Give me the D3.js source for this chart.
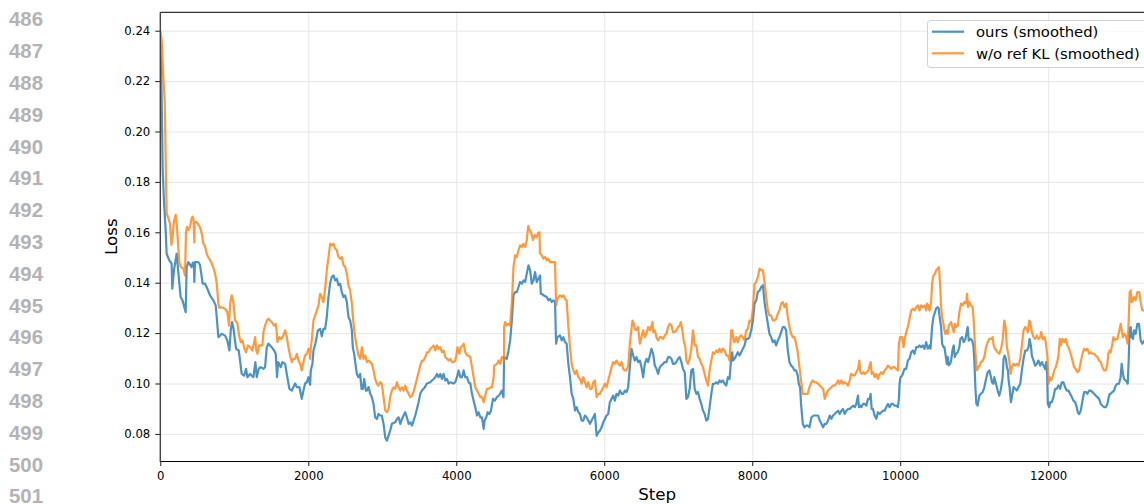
<!DOCTYPE html>
<html>
<head>
<meta charset="utf-8">
<script src="https://cdn.jsdelivr.net/npm/d3@7"></script>
<style>
  body { margin: 0; background: #fff; }
  svg { display: block; font-family: "DejaVu Sans", sans-serif; }
</style>
</head>
<body>
<div id="chart"></div>
<script>
// margin line numbers of the paper page
var lineNumbers = [486,487,488,489,490,491,492,493,494,495,496,497,498,499,500,501];

var xTicks = [0, 2000, 4000, 6000, 8000, 10000, 12000];
var yTicks = [0.08, 0.10, 0.12, 0.14, 0.16, 0.18, 0.20, 0.22, 0.24];

var seriesNames = ["ours (smoothed)", "w/o ref KL (smoothed)"];

// [step, loss]
var oursData = [
[0,0.235],[12,0.225],[25,0.200],[32,0.185],[50,0.172],[72,0.161],[86,0.1515],[120,0.149],[153,0.1476],[162,0.1376],
[185,0.145],[221,0.1515],[250,0.142],[275,0.1343],[300,0.133],[325,0.1303],[343,0.1283],[356,0.1462],[379,0.1482],[424,0.1462],
[440,0.148],[455,0.146],[460,0.1403],[469,0.1482],[514,0.1482],[537,0.147],[573,0.1396],[605,0.1396],[636,0.1376],[672,0.135],
[717,0.133],[749,0.131],[785,0.1184],[808,0.119],[830,0.1197],[875,0.119],[906,0.1171],[934,0.1131],[952,0.1211],[970,0.1244],
[988,0.122],[1024,0.1138],[1060,0.1131],[1078,0.1091],[1100,0.1038],[1132,0.1031],[1159,0.1058],[1177,0.1025],[1213,0.1038],[1258,0.1025],
[1285,0.1085],[1303,0.1025],[1330,0.1058],[1357,0.1065],[1394,0.1058],[1416,0.1065],[1439,0.1144],[1461,0.1158],[1506,0.1144],[1538,0.1131],
[1560,0.1118],[1578,0.1025],[1592,0.1085],[1628,0.1065],[1650,0.1085],[1687,0.1078],[1709,0.1038],[1745,0.0979],[1777,0.0972],[1822,0.1],
[1845,0.0986],[1880,0.0986],[1912,0.0939],[1935,0.0972],[1957,0.1],[1980,0.1005],[2002,0.1025],[2020,0.1],[2025,0.0995],[2034,0.1052],
[2056,0.1078],[2070,0.1131],[2101,0.1164],[2129,0.1211],[2160,0.1217],[2183,0.1187],[2205,0.1217],[2228,0.1217],[2250,0.1264],[2273,0.1343],
[2296,0.14],[2318,0.1423],[2341,0.1429],[2363,0.1409],[2386,0.1416],[2408,0.139],[2431,0.1396],[2453,0.1363],[2476,0.1343],[2498,0.135],
[2521,0.1323],[2543,0.1264],[2566,0.125],[2589,0.1211],[2602,0.1144],[2620,0.1118],[2638,0.1078],[2656,0.1038],[2679,0.1025],[2701,0.1038],
[2720,0.0979],[2738,0.0979],[2756,0.1018],[2778,0.0972],[2792,0.0972],[2815,0.0986],[2837,0.0959],[2859,0.0946],[2882,0.0919],[2904,0.0866],
[2927,0.0859],[2949,0.0879],[2972,0.0873],[2994,0.0873],[3017,0.084],[3040,0.0787],[3062,0.0773],[3085,0.0793],[3107,0.0813],[3130,0.084],
[3175,0.0846],[3198,0.0859],[3220,0.0866],[3243,0.084],[3265,0.0859],[3288,0.0873],[3310,0.0886],[3333,0.0866],[3355,0.084],[3378,0.0846],
[3401,0.0833],[3423,0.0853],[3446,0.0873],[3468,0.0899],[3491,0.0926],[3513,0.0959],[3536,0.0972],[3558,0.0979],[3581,0.0988],[3603,0.1],
[3649,0.1005],[3671,0.1012],[3694,0.1018],[3716,0.1025],[3739,0.1038],[3761,0.1025],[3784,0.1038],[3806,0.1018],[3829,0.1038],[3852,0.1012],
[3874,0.1018],[3897,0.1],[3919,0.1005],[3964,0.1],[3986,0.1005],[4009,0.1025],[4032,0.1052],[4055,0.1025],[4077,0.1025],[4100,0.1052],
[4122,0.1025],[4145,0.1025],[4167,0.1005],[4190,0.1],[4212,0.0959],[4235,0.0932],[4257,0.0906],[4280,0.0873],[4302,0.0886],[4325,0.0866],
[4347,0.0866],[4370,0.082],[4383,0.0853],[4406,0.0866],[4424,0.0886],[4447,0.0879],[4469,0.0892],[4496,0.0939],[4520,0.0932],[4550,0.0946],
[4575,0.0952],[4593,0.0959],[4616,0.0972],[4638,0.0946],[4647,0.1105],[4683,0.1098],[4706,0.1131],[4728,0.1171],[4751,0.125],[4773,0.135],
[4796,0.1363],[4818,0.1363],[4841,0.1383],[4863,0.1403],[4886,0.1396],[4908,0.1409],[4931,0.1403],[4953,0.1436],[4976,0.1469],[4998,0.1449],
[5020,0.1396],[5043,0.1409],[5065,0.1442],[5088,0.1403],[5110,0.1416],[5133,0.1429],[5142,0.1356],[5155,0.1356],[5178,0.135],[5222,0.1343],
[5245,0.133],[5267,0.1336],[5290,0.1323],[5313,0.133],[5335,0.1323],[5349,0.1158],[5367,0.1184],[5402,0.1191],[5425,0.1171],[5447,0.1184],
[5470,0.1164],[5492,0.1158],[5515,0.1078],[5537,0.1025],[5560,0.0959],[5582,0.0939],[5605,0.0893],[5627,0.0906],[5650,0.0886],[5672,0.0879],
[5694,0.0853],[5717,0.0853],[5739,0.0873],[5762,0.0866],[5784,0.0853],[5807,0.084],[5829,0.0853],[5852,0.0866],[5874,0.0879],[5897,0.0793],
[5919,0.0806],[5942,0.0813],[5964,0.0826],[5987,0.0846],[6009,0.0859],[6031,0.0873],[6054,0.0879],[6076,0.0926],[6099,0.0939],[6121,0.0952],
[6144,0.0932],[6166,0.0959],[6189,0.0952],[6211,0.0972],[6234,0.0959],[6256,0.0959],[6279,0.0972],[6301,0.0966],[6323,0.0985],[6346,0.1065],
[6368,0.1138],[6391,0.1111],[6413,0.1091],[6436,0.1105],[6458,0.1085],[6481,0.1091],[6503,0.1065],[6526,0.1025],[6548,0.1078],[6571,0.1098],
[6593,0.1085],[6616,0.1111],[6638,0.1138],[6661,0.1118],[6683,0.1072],[6706,0.1058],[6728,0.1038],[6751,0.1065],[6773,0.1072],[6796,0.1078],
[6818,0.1085],[6841,0.1085],[6863,0.1105],[6885,0.1105],[6908,0.1098],[6930,0.1078],[6953,0.1078],[6975,0.1085],[6998,0.1098],[7020,0.1105],
[7042,0.1085],[7065,0.1058],[7088,0.1045],[7110,0.0939],[7132,0.0946],[7155,0.098],[7177,0.1052],[7200,0.1058],[7222,0.098],[7245,0.0959],
[7267,0.0966],[7289,0.0939],[7312,0.0919],[7334,0.0893],[7357,0.0879],[7379,0.0853],[7402,0.0859],[7424,0.0906],[7447,0.0959],[7469,0.0999],
[7492,0.0999],[7514,0.1005],[7537,0.0999],[7559,0.1012],[7582,0.1005],[7604,0.1012],[7627,0.0999],[7649,0.0992],[7672,0.1025],[7694,0.1018],
[7716,0.1105],[7730,0.1124],[7739,0.1091],[7761,0.1098],[7784,0.1111],[7806,0.1124],[7828,0.1111],[7851,0.1124],[7873,0.1138],[7896,0.1151],
[7918,0.1177],[7941,0.1177],[7963,0.1184],[7986,0.1211],[8009,0.125],[8031,0.1317],[8054,0.133],[8076,0.1363],[8099,0.1369],[8121,0.1383],
[8144,0.139],[8166,0.1323],[8189,0.1277],[8211,0.1237],[8233,0.1197],[8256,0.1184],[8278,0.1164],[8301,0.1171],[8323,0.1151],[8346,0.1171],
[8368,0.1184],[8391,0.1204],[8413,0.1224],[8436,0.1224],[8458,0.1211],[8481,0.1131],[8503,0.1085],[8526,0.1071],[8548,0.1065],[8570,0.1052],
[8593,0.1052],[8615,0.1032],[8629,0.0999],[8647,0.0985],[8660,0.0919],[8683,0.084],[8705,0.0826],[8728,0.0833],[8750,0.0833],[8773,0.0826],
[8800,0.0866],[8830,0.0873],[8860,0.0873],[8890,0.0873],[8913,0.0853],[8935,0.084],[8958,0.0826],[8980,0.084],[9003,0.084],[9025,0.0853],
[9047,0.0873],[9070,0.086],[9092,0.0873],[9115,0.0879],[9137,0.0886],[9160,0.0892],[9182,0.0879],[9205,0.0892],[9227,0.0899],[9250,0.0879],
[9272,0.0892],[9295,0.0899],[9317,0.0899],[9340,0.0906],[9362,0.0912],[9385,0.0906],[9407,0.0919],[9429,0.0952],[9443,0.0906],[9461,0.0912],
[9475,0.0906],[9497,0.0919],[9520,0.0919],[9542,0.0912],[9565,0.0939],[9587,0.0939],[9600,0.0959],[9614,0.0899],[9632,0.0899],[9654,0.0873],
[9677,0.086],[9699,0.0886],[9722,0.0879],[9744,0.0886],[9767,0.0892],[9789,0.0892],[9811,0.0906],[9834,0.0919],[9856,0.0906],[9879,0.0919],
[9901,0.0919],[9924,0.0912],[9946,0.0912],[9969,0.0906],[9982,0.0939],[9991,0.0999],[10004,0.1025],[10027,0.1032],[10058,0.1058],[10081,0.1058],
[10103,0.1091],[10126,0.1098],[10148,0.1124],[10171,0.1131],[10193,0.1118],[10216,0.1144],[10238,0.1144],[10261,0.1151],[10283,0.1144],[10306,0.1151],
[10328,0.1138],[10351,0.1164],[10373,0.1138],[10396,0.1151],[10409,0.1138],[10418,0.1171],[10431,0.1224],[10449,0.1264],[10472,0.1284],[10485,0.1297],
[10508,0.1303],[10521,0.1297],[10530,0.127],[10553,0.1224],[10566,0.1158],[10584,0.1144],[10598,0.1144],[10611,0.1118],[10629,0.1078],[10642,0.1105],
[10656,0.1072],[10674,0.1078],[10688,0.1091],[10710,0.1138],[10724,0.1151],[10737,0.1105],[10755,0.1118],[10778,0.1124],[10800,0.1144],[10813,0.1177],
[10836,0.1184],[10858,0.1164],[10881,0.1177],[10899,0.1204],[10912,0.1224],[10926,0.117],[10953,0.1177],[10971,0.1171],[10989,0.1151],[11002,0.1091],
[11016,0.0985],[11029,0.0919],[11047,0.0912],[11070,0.0952],[11092,0.0959],[11115,0.0966],[11137,0.0985],[11160,0.1018],[11182,0.1045],[11205,0.1052],
[11227,0.1025],[11240,0.1005],[11258,0.0999],[11272,0.1025],[11294,0.0999],[11317,0.0972],[11339,0.0952],[11362,0.0979],[11384,0.1025],[11397,0.1097],
[11411,0.1111],[11429,0.1098],[11442,0.1065],[11456,0.1052],[11465,0.1012],[11478,0.0986],[11496,0.0926],[11510,0.0946],[11532,0.0986],[11554,0.0979],
[11577,0.0972],[11599,0.0986],[11622,0.0999],[11644,0.1052],[11667,0.1098],[11689,0.1131],[11712,0.1131],[11734,0.1144],[11748,0.1177],[11766,0.1151],
[11779,0.1111],[11802,0.1091],[11824,0.1071],[11847,0.1078],[11869,0.1091],[11892,0.1071],[11914,0.1085],[11937,0.1071],[11959,0.1058],[11973,0.1085],
[11986,0.1032],[11995,0.0919],[12013,0.0906],[12027,0.0926],[12049,0.0926],[12071,0.0946],[12094,0.0979],[12116,0.0979],[12139,0.0992],[12161,0.0979],
[12184,0.1005],[12206,0.1005],[12229,0.0985],[12251,0.0972],[12274,0.0972],[12296,0.0959],[12319,0.0946],[12341,0.0932],[12364,0.0926],[12386,0.0906],
[12400,0.0886],[12418,0.0879],[12440,0.0892],[12463,0.0932],[12486,0.0966],[12508,0.0966],[12530,0.0959],[12553,0.0972],[12575,0.0972],[12598,0.0966],
[12620,0.0959],[12643,0.0952],[12665,0.0946],[12688,0.0939],[12710,0.0919],[12733,0.0912],[12755,0.0906],[12777,0.0906],[12800,0.0919],[12813,0.0939],
[12831,0.0959],[12845,0.0959],[12867,0.0966],[12890,0.0972],[12912,0.0992],[12935,0.0999],[12957,0.0999],[12979,0.1025],[12993,0.1078],[13011,0.1038],
[13025,0.1018],[13047,0.1012],[13075,0.1],[13088,0.1092],[13101,0.1217],[13115,0.1224],[13128,0.1184],[13146,0.1177],[13160,0.1211],[13182,0.1197],
[13205,0.1237],[13227,0.1237],[13250,0.1171],[13272,0.1158],[13300,0.117],[13330,0.116]
];

var noRefData = [
[0,0.240],[20,0.236],[40,0.222],[60,0.212],[75,0.185],[86,0.1675],[110,0.1655],[131,0.1635],[150,0.155],[165,0.158],
[185,0.1645],[208,0.1669],[225,0.162],[240,0.1555],[257,0.148],[280,0.1462],[311,0.1456],[334,0.1429],[347,0.16],[360,0.1622],
[380,0.161],[400,0.162],[424,0.1656],[437,0.1662],[450,0.165],[460,0.156],[464,0.164],[490,0.164],[515,0.163],[537,0.162],
[559,0.1597],[582,0.1555],[604,0.1545],[627,0.1515],[650,0.15],[672,0.149],[695,0.1476],[717,0.146],[740,0.1436],[762,0.14],
[785,0.1317],[797,0.13],[816,0.1303],[850,0.13],[875,0.1297],[906,0.1283],[929,0.123],[943,0.1317],[965,0.135],[988,0.1323],
[1010,0.1251],[1040,0.124],[1069,0.1184],[1087,0.1164],[1110,0.1171],[1137,0.1138],[1159,0.1124],[1185,0.1151],[1213,0.1144],[1245,0.1131],
[1281,0.1184],[1297,0.1131],[1312,0.1118],[1335,0.1151],[1362,0.1151],[1380,0.1151],[1394,0.1204],[1416,0.123],[1439,0.125],[1461,0.1257],
[1484,0.125],[1506,0.1244],[1538,0.123],[1560,0.1237],[1572,0.1211],[1583,0.1164],[1610,0.1184],[1635,0.1177],[1664,0.1191],[1687,0.1211],
[1710,0.1184],[1732,0.1144],[1754,0.1111],[1777,0.1085],[1800,0.1098],[1822,0.1098],[1845,0.1118],[1867,0.1091],[1890,0.1078],[1912,0.1052],
[1935,0.1085],[1957,0.1111],[1980,0.1118],[2002,0.1138],[2020,0.113],[2025,0.1098],[2034,0.114],[2047,0.1171],[2070,0.125],[2093,0.127],
[2115,0.129],[2138,0.131],[2160,0.1356],[2183,0.1343],[2205,0.1323],[2228,0.1376],[2250,0.1449],[2273,0.1502],[2296,0.1555],[2318,0.1548],
[2341,0.1555],[2363,0.1535],[2386,0.1529],[2408,0.1502],[2431,0.1495],[2453,0.1502],[2476,0.1469],[2498,0.1462],[2521,0.1436],[2543,0.1389],
[2566,0.1369],[2589,0.1317],[2611,0.1237],[2634,0.1184],[2656,0.1144],[2679,0.1111],[2701,0.1098],[2724,0.1144],[2746,0.1098],[2769,0.1111],
[2792,0.1085],[2815,0.1091],[2837,0.1085],[2859,0.1078],[2882,0.1052],[2904,0.1018],[2927,0.1],[2949,0.0992],[2972,0.1005],[2994,0.0999],
[3017,0.0946],[3040,0.0893],[3062,0.0886],[3085,0.0899],[3107,0.0946],[3130,0.0972],[3153,0.0985],[3175,0.0979],[3198,0.1005],[3220,0.0985],
[3243,0.0972],[3265,0.0985],[3288,0.0972],[3310,0.0992],[3333,0.0972],[3355,0.0959],[3378,0.0946],[3401,0.0952],[3423,0.0966],[3446,0.0992],
[3468,0.1018],[3491,0.1045],[3513,0.1071],[3536,0.1091],[3558,0.1091],[3581,0.1105],[3603,0.1124],[3626,0.1124],[3649,0.1138],[3671,0.1144],
[3694,0.1151],[3716,0.1131],[3739,0.1151],[3761,0.1138],[3784,0.1144],[3806,0.1124],[3829,0.1131],[3852,0.1105],[3874,0.1098],[3897,0.1091],
[3919,0.1098],[3942,0.1085],[3964,0.1085],[3986,0.1091],[4000,0.1111],[4018,0.1144],[4041,0.1118],[4063,0.1144],[4086,0.1151],[4100,0.1158],
[4122,0.1124],[4145,0.1111],[4167,0.1111],[4190,0.1105],[4212,0.1065],[4235,0.1025],[4257,0.0985],[4280,0.0972],[4302,0.0959],[4325,0.0946],
[4347,0.0946],[4370,0.0926],[4392,0.0952],[4415,0.0979],[4437,0.0979],[4460,0.0985],[4483,0.0985],[4505,0.1025],[4513,0.1071],[4550,0.1078],
[4571,0.1091],[4593,0.1078],[4616,0.1105],[4639,0.1105],[4645,0.109],[4647,0.1224],[4660,0.1244],[4683,0.123],[4706,0.1237],[4728,0.123],
[4751,0.1317],[4773,0.1462],[4796,0.1509],[4818,0.1502],[4841,0.1529],[4863,0.1548],[4886,0.1542],[4908,0.1555],[4931,0.1542],[4953,0.1568],
[4973,0.1625],[4990,0.1609],[5010,0.16],[5037,0.157],[5060,0.159],[5085,0.158],[5105,0.1597],[5125,0.16],[5131,0.1518],[5155,0.1509],
[5178,0.1495],[5200,0.1502],[5222,0.1489],[5245,0.1495],[5267,0.1482],[5289,0.1482],[5313,0.1482],[5335,0.1482],[5349,0.131],[5367,0.1336],
[5402,0.135],[5425,0.1343],[5447,0.135],[5470,0.1336],[5492,0.133],[5515,0.1224],[5537,0.1144],[5560,0.1078],[5582,0.1052],[5605,0.1038],
[5627,0.1052],[5650,0.1025],[5672,0.1018],[5694,0.0999],[5717,0.1025],[5739,0.1005],[5762,0.0985],[5784,0.1005],[5807,0.0979],[5829,0.0979],
[5852,0.1005],[5874,0.1012],[5897,0.0946],[5919,0.0959],[5942,0.0959],[5964,0.0972],[5987,0.0985],[6009,0.0999],[6031,0.0985],[6054,0.1012],
[6076,0.1038],[6099,0.1065],[6121,0.1085],[6144,0.1078],[6166,0.1091],[6189,0.1078],[6211,0.1071],[6234,0.1085],[6256,0.1058],[6279,0.1052],
[6301,0.1052],[6324,0.1071],[6346,0.1158],[6368,0.1217],[6382,0.125],[6400,0.1237],[6413,0.1217],[6436,0.1211],[6458,0.1224],[6481,0.1158],
[6503,0.1184],[6526,0.1211],[6548,0.1184],[6571,0.1197],[6593,0.1224],[6616,0.1211],[6638,0.123],[6652,0.1244],[6661,0.1204],[6683,0.1211],
[6706,0.1184],[6728,0.1171],[6751,0.1184],[6773,0.1184],[6796,0.1177],[6818,0.1191],[6840,0.1197],[6863,0.1224],[6885,0.1237],[6908,0.123],
[6930,0.1204],[6953,0.1204],[6975,0.1211],[6998,0.1224],[7020,0.123],[7034,0.1244],[7056,0.1211],[7074,0.1171],[7096,0.1144],[7110,0.1091],
[7132,0.1078],[7155,0.1098],[7177,0.1138],[7200,0.1211],[7222,0.1151],[7245,0.1151],[7267,0.1105],[7289,0.1098],[7312,0.1078],[7334,0.1065],
[7357,0.1038],[7379,0.1012],[7402,0.0992],[7424,0.1052],[7447,0.1091],[7469,0.1124],[7492,0.1118],[7514,0.1131],[7537,0.1124],[7559,0.1138],
[7582,0.1124],[7604,0.1138],[7627,0.1131],[7649,0.1111],[7672,0.1111],[7694,0.1091],[7716,0.1211],[7730,0.1211],[7748,0.1171],[7761,0.1164],
[7784,0.1184],[7806,0.1164],[7828,0.1184],[7851,0.1191],[7873,0.1184],[7896,0.1171],[7918,0.1211],[7941,0.1217],[7963,0.125],[7986,0.1244],
[8009,0.1297],[8031,0.1396],[8054,0.1403],[8076,0.1423],[8099,0.1456],[8121,0.1449],[8144,0.1449],[8166,0.1403],[8189,0.1343],[8211,0.129],
[8233,0.127],[8256,0.127],[8278,0.125],[8301,0.125],[8323,0.1257],[8346,0.1277],[8368,0.129],[8391,0.1317],[8413,0.1323],[8436,0.1303],
[8458,0.1317],[8481,0.1264],[8503,0.1224],[8526,0.1197],[8548,0.1184],[8570,0.1184],[8593,0.1158],[8615,0.1124],[8638,0.1065],[8660,0.1012],
[8683,0.0959],[8705,0.0959],[8728,0.0959],[8750,0.0959],[8773,0.0985],[8800,0.1005],[8818,0.1012],[8840,0.1005],[8863,0.1005],[8890,0.0999],
[8913,0.0992],[8935,0.0985],[8958,0.0979],[8980,0.0939],[9003,0.0959],[9025,0.0972],[9047,0.0979],[9070,0.0985],[9092,0.0992],[9115,0.0992],
[9137,0.0999],[9160,0.1012],[9182,0.0999],[9205,0.1012],[9227,0.0999],[9250,0.1005],[9272,0.0999],[9295,0.0992],[9317,0.1012],[9336,0.1038],
[9362,0.1032],[9385,0.1032],[9407,0.1045],[9429,0.1058],[9448,0.1091],[9461,0.1045],[9479,0.1038],[9502,0.1045],[9524,0.1038],[9547,0.1045],
[9569,0.1052],[9587,0.1071],[9601,0.1085],[9614,0.1038],[9632,0.1045],[9654,0.1025],[9677,0.1038],[9699,0.1018],[9722,0.1038],[9744,0.1045],
[9767,0.1038],[9789,0.1052],[9811,0.1058],[9834,0.1071],[9856,0.1065],[9879,0.1058],[9901,0.1065],[9924,0.1065],[9946,0.1058],[9969,0.1052],
[9982,0.1158],[10000,0.1184],[10027,0.1184],[10045,0.1144],[10058,0.1171],[10081,0.1204],[10103,0.1224],[10126,0.1257],[10148,0.129],[10171,0.1297],
[10193,0.129],[10216,0.1303],[10238,0.131],[10261,0.129],[10283,0.131],[10306,0.1303],[10328,0.131],[10351,0.129],[10364,0.1317],[10382,0.131],
[10396,0.129],[10418,0.1323],[10431,0.1396],[10449,0.1429],[10472,0.1436],[10485,0.1449],[10508,0.1456],[10521,0.1462],[10530,0.1436],[10544,0.1363],
[10553,0.1303],[10566,0.1264],[10584,0.1237],[10598,0.1211],[10611,0.1197],[10629,0.1211],[10642,0.1197],[10656,0.123],[10674,0.1237],[10688,0.1244],
[10710,0.1217],[10724,0.1204],[10742,0.1237],[10755,0.1224],[10778,0.123],[10800,0.1284],[10822,0.1317],[10845,0.131],[10867,0.1323],[10890,0.1317],
[10904,0.1356],[10917,0.1303],[10935,0.1323],[10958,0.131],[10980,0.1303],[10993,0.125],[11007,0.1171],[11025,0.1085],[11038,0.1052],[11056,0.1065],
[11074,0.1071],[11092,0.1085],[11115,0.1091],[11137,0.1105],[11160,0.1144],[11182,0.1164],[11205,0.1177],[11227,0.1177],[11249,0.1184],[11263,0.1151],
[11281,0.1138],[11299,0.1131],[11317,0.1124],[11339,0.1118],[11362,0.1138],[11384,0.1171],[11406,0.125],[11424,0.1224],[11442,0.1144],[11460,0.1118],
[11474,0.1091],[11492,0.1038],[11510,0.1065],[11532,0.1078],[11554,0.1071],[11577,0.1078],[11599,0.1071],[11622,0.1098],[11644,0.1151],[11667,0.1211],
[11689,0.1224],[11712,0.1217],[11725,0.1204],[11743,0.125],[11757,0.1244],[11779,0.1204],[11802,0.1184],[11824,0.1177],[11847,0.1191],[11869,0.1177],
[11892,0.1184],[11905,0.1204],[11928,0.1177],[11950,0.1184],[11968,0.1164],[11990,0.1105],[12004,0.0999],[12022,0.1025],[12036,0.1012],[12058,0.1025],
[12081,0.1052],[12103,0.1065],[12126,0.1091],[12139,0.1111],[12157,0.1177],[12170,0.1151],[12193,0.1177],[12215,0.1164],[12238,0.1177],[12260,0.1151],
[12283,0.1138],[12305,0.1118],[12328,0.1091],[12350,0.1065],[12373,0.1058],[12395,0.1045],[12418,0.1052],[12440,0.1085],[12463,0.1118],[12486,0.1138],
[12508,0.1131],[12530,0.1138],[12553,0.1118],[12575,0.1124],[12598,0.1118],[12620,0.1118],[12643,0.1111],[12665,0.1105],[12688,0.1091],[12710,0.1085],
[12733,0.1065],[12755,0.1052],[12777,0.1052],[12800,0.1078],[12813,0.1118],[12831,0.1131],[12845,0.1124],[12867,0.1158],[12881,0.1184],[12894,0.1171],
[12912,0.1177],[12935,0.1177],[12957,0.1204],[12979,0.1237],[12993,0.1211],[13011,0.1184],[13025,0.1197],[13047,0.1191],[13075,0.1158],[13088,0.125],
[13101,0.1363],[13115,0.1369],[13128,0.1323],[13146,0.133],[13160,0.1343],[13182,0.133],[13205,0.1363],[13230,0.1363],[13250,0.1323],[13272,0.129],
[13300,0.129],[13330,0.13]
];

var colors = ["#1f77b4", "#ff7f0e"];

var w = 1144, h = 504;
var plotLeft = 160.3, plotRight = 1154, plotTop = 12.3, plotBottom = 461;

var svg = d3.select("#chart")
  .append("svg")
  .attr("width", w)
  .attr("height", h);

// page line numbers in the margin
svg.selectAll(".lineno")
  .data(lineNumbers)
  .enter()
  .append("text")
  .attr("class", "lineno")
  .attr("x", 9)
  .attr("y", (d, i) => 26.3 + i * 31.8)
  .text(d => d)
  .style("font-family", "'Liberation Sans', Arial, sans-serif")
  .style("font-weight", "bold")
  .style("font-size", "20.4px")
  .style("fill", "#b3b3b3");

var x = d3.scaleLinear().domain([0, 13430]).range([plotLeft, plotRight]);
var y = d3.scaleLinear().domain([0.06925, 0.2473]).range([plotBottom, plotTop]);

// grid
svg.append("g")
  .attr("transform", "translate(0," + plotBottom + ")")
  .call(d3.axisBottom(x).tickValues(xTicks).tickSize(-(plotBottom - plotTop)).tickFormat(""))
  .call(g => g.select(".domain").remove())
  .selectAll("line")
  .attr("stroke", "#e6e6e6")
  .attr("stroke-width", 1);

svg.append("g")
  .attr("transform", "translate(" + plotLeft + ",0)")
  .call(d3.axisLeft(y).tickValues(yTicks).tickSize(-(plotRight - plotLeft)).tickFormat(""))
  .call(g => g.select(".domain").remove())
  .selectAll("line")
  .attr("stroke", "#e6e6e6")
  .attr("stroke-width", 1);

svg.append("clipPath")
  .attr("id", "plotclip")
  .append("rect")
  .attr("x", plotLeft)
  .attr("y", plotTop)
  .attr("width", plotRight - plotLeft)
  .attr("height", plotBottom - plotTop);

var line = d3.line()
  .x(d => x(d[0]))
  .y(d => y(d[1]));

var plot = svg.append("g").attr("clip-path", "url(#plotclip)");

[oursData, noRefData].forEach(function(data, i){
  plot.append("path")
    .datum(data)
    .attr("d", line)
    .attr("fill", "none")
    .attr("stroke", colors[i])
    .attr("stroke-opacity", 0.8)
    .attr("stroke-width", 2.2)
    .attr("stroke-linejoin", "round");
});

// axes
var yAxis = svg.append("g")
  .attr("transform", "translate(" + plotLeft + ",0)")
  .call(d3.axisLeft(y).tickValues(yTicks).tickFormat(d3.format(".2f")).tickSize(5).tickPadding(5));
yAxis.select(".domain").remove();

var xAxis = svg.append("g")
  .attr("transform", "translate(0," + plotBottom + ")")
  .call(d3.axisBottom(x).tickValues(xTicks).tickFormat(d3.format("d")).tickSize(5).tickPadding(5.5));
xAxis.select(".domain").remove();

[xAxis, yAxis].forEach(function(ax){
  ax.selectAll(".tick text")
    .style("font-family", "'DejaVu Sans', sans-serif")
    .style("font-size", "11.7px")
    .style("fill", "#000");
  ax.selectAll(".tick line").attr("stroke", "#000").attr("stroke-width", 0.9);
});

// spines
svg.append("line")
  .attr("x1", plotLeft).attr("x2", plotRight)
  .attr("y1", plotTop).attr("y2", plotTop)
  .attr("stroke", "#000").attr("stroke-width", 1);
svg.append("line")
  .attr("x1", plotLeft).attr("x2", plotRight)
  .attr("y1", plotBottom + 0.5).attr("y2", plotBottom + 0.5)
  .attr("stroke", "#000").attr("stroke-width", 1);
svg.append("line")
  .attr("x1", plotLeft).attr("x2", plotLeft)
  .attr("y1", plotTop).attr("y2", plotBottom + 1)
  .attr("stroke", "#444").attr("stroke-width", 1.4);

// axis labels
svg.append("text")
  .attr("transform", "translate(117," + ((plotTop + plotBottom) / 2) + ") rotate(-90)")
  .attr("text-anchor", "middle")
  .text("Loss")
  .style("font-size", "16.7px")
  .style("fill", "#000");

svg.append("text")
  .attr("x", (plotLeft + plotRight) / 2)
  .attr("y", 500)
  .attr("text-anchor", "middle")
  .text("Step")
  .style("font-size", "16.7px")
  .style("fill", "#000");

// legend
var legend = svg.append("g");
legend.append("rect")
  .attr("x", 927.5)
  .attr("y", 20.5)
  .attr("width", 220)
  .attr("height", 47)
  .attr("rx", 3)
  .attr("fill", "#fff")
  .attr("fill-opacity", 0.8)
  .attr("stroke", "#d0d0d0");

var legendItem = legend.selectAll(".item")
  .data(seriesNames)
  .enter()
  .append("g")
  .attr("transform", (d, i) => "translate(0," + (31.7 + i * 21.6) + ")");

legendItem.append("line")
  .attr("x1", 932).attr("x2", 964)
  .attr("stroke", (d, i) => colors[i])
  .attr("stroke-opacity", 0.8)
  .attr("stroke-width", 2.2);

legendItem.append("text")
  .attr("x", 976)
  .attr("y", 5.3)
  .text(d => d)
  .style("font-size", "14.8px")
  .style("fill", "#000");
</script>
</body>
</html>
